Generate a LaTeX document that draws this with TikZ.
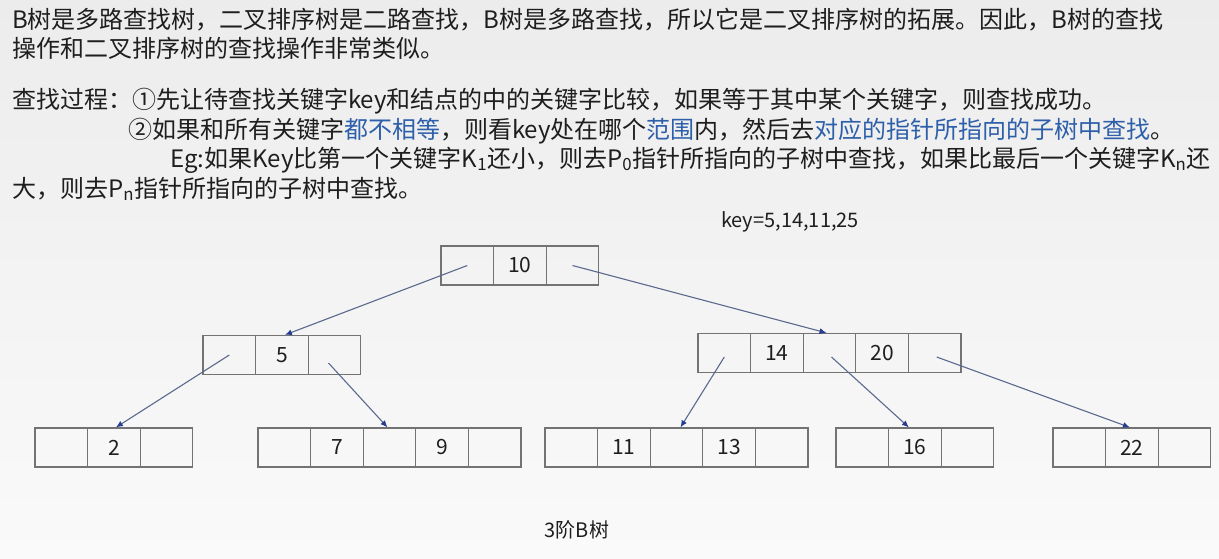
\documentclass[tikz,border=0pt]{standalone}
\usepackage{fontspec}
\setmainfont{Noto Sans CJK SC}
\usetikzlibrary{arrows.meta,calc}
\definecolor{bgtop}{RGB}{236,236,236}
\definecolor{bgbot}{RGB}{250,250,250}
\definecolor{txt}{RGB}{30,30,30}
\definecolor{hl}{RGB}{45,95,170}
\definecolor{edgec}{RGB}{90,105,140}
\definecolor{tipc}{RGB}{40,60,145}
\definecolor{cellline}{RGB}{115,115,115}
\tikzset{
  cell/.style={draw=cellline,line width=1.2pt,minimum width=52.6pt,minimum height=39pt,inner sep=0pt,font=\fontsize{21}{21}\selectfont,text=txt},
  ptr/.style={draw=edgec,line width=1.1pt,-{Latex[length=7pt,width=6pt,color=tipc]}},
  para/.style={anchor=west,inner sep=0pt,font=\fontsize{24}{24}\selectfont,text=txt},
  lbl/.style={inner sep=0pt,font=\fontsize{20}{20}\selectfont,text=txt}
}
\newcommand\bnode[4]{%
  \foreach [count=\i from 0] \t in {#4} {
    \node[cell] (#1\i) at ({#2+52.6*\i+26.3},#3) {\t};
  }%
}
\begin{document}
\begin{tikzpicture}[x=1pt,y=-1pt]
\shade[top color=bgtop,bottom color=bgbot] (0,0) rectangle (1219,559);
\path[use as bounding box] (0,0) rectangle (1219,559);

\node[para] (l1) at (12,20) {B树是多路查找树，二叉排序树是二路查找，B树是多路查找，所以它是二叉排序树的拓展。因此，B树的查找};
\node[para] (l2) at (12,48) {操作和二叉排序树的查找操作非常类似。};
\node[para] (l3) at (12,101) {查找过程：①先让待查找关键字key和结点的中的关键字比较，如果等于其中某个关键字，则查找成功。};
\node[para] (l4) at (128,131) {②如果和所有关键字\textcolor{hl}{都不相等}，则看key处在哪个\textcolor{hl}{范围}内，然后去\textcolor{hl}{对应的指针所指向的子树中查找}。};
\node[para] (l5) at (170,160) {Eg:如果Key比第一个关键字K\textsubscript{1}还小，则去P\textsubscript{0}指针所指向的子树中查找，如果比最后一个关键字K\textsubscript{n}还};
\node[para] (l6) at (12,189) {大，则去P\textsubscript{n}指针所指向的子树中查找。};

\node[lbl] (key) at (790,222) {key=5,14,11,25};
\node[lbl] (cap) at (577,530) {3阶B树};

\bnode{r}{441}{265.5}{{},10,{}}
\bnode{a}{203}{355}{{},5,{}}
\bnode{b}{698}{353}{{},14,{},20,{}}
\bnode{c}{35}{447.5}{{},2,{}}
\bnode{d}{258}{447.5}{{},7,{},9,{}}
\bnode{e}{545}{447.5}{{},11,{},13,{}}
\bnode{f}{836}{447.5}{{},16,{}}
\bnode{g}{1053}{447.5}{{},22,{}}

\draw[ptr] (r0.center) -- ($(a1.north)+(3,0)$);
\draw[ptr] (r2.center) -- ($(b2.north)+(-3,0)$);
\draw[ptr] (a0.center) -- ($(c1.north)+(2,0)$);
\draw[ptr] ($(a2.center)+(-6,8)$) -- ($(d2.north)+(-2,0)$);
\draw[ptr] ($(b0.center)+(0,4)$) -- ($(e2.north)+(4,0)$);
\draw[ptr] ($(b2.center)+(2,4)$) -- ($(f1.north)+(-6,0)$);
\draw[ptr] ($(b4.center)+(2,4)$) -- ($(g1.north)+(-2,0)$);
\end{tikzpicture}
\end{document}
